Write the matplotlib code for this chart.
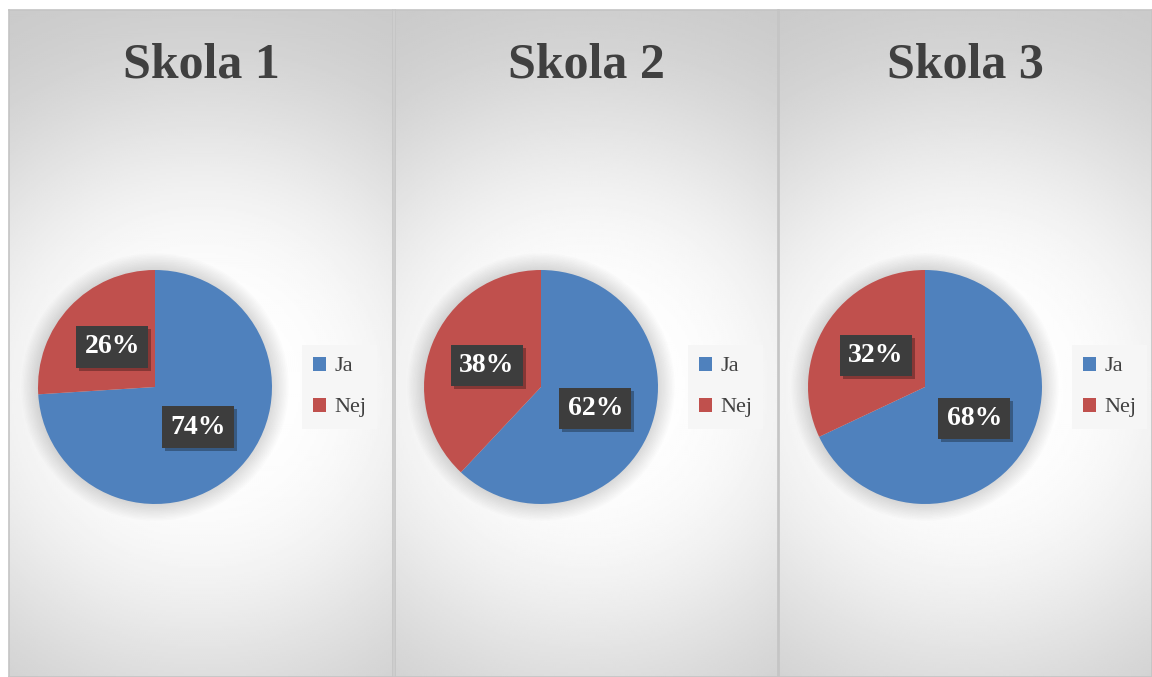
import numpy as np
import matplotlib.pyplot as plt
from matplotlib.patches import Circle, Rectangle

schools = ['Skola 1', 'Skola 2', 'Skola 3']
labels = ['Ja', 'Nej']
ja_values = [74, 62, 68]
nej_values = [26, 38, 32]
colors = ['#4F81BD', '#C0504D']

W, H = 1152, 677
fig = plt.figure(figsize=(W / 100, H / 100), dpi=100)
fig.patch.set_facecolor('white')

def fig_rect(x0, y0, x1, y1):
    # pixel box (top-left origin) -> figure fraction rect
    return [x0 / W, 1 - y1 / H, (x1 - x0) / W, (y1 - y0) / H]

panels = [(9, 393), (395, 778), (779, 1152)]
top, bottom = 10, 677
serif = 'Liberation Serif'
pct_labels = []

for i, (x0, x1) in enumerate(panels):
    # soft radial gradient, centred on the pie
    pw, ph = x1 - x0, bottom - top
    yy, xx = np.mgrid[0:ph:2, 0:pw:2]
    d = np.hypot(xx - pw / 2, yy - (387 - top))
    grad = 0.78 + 0.22 * np.exp(-(d / 300.0) ** 3)

    bg = fig.add_axes(fig_rect(x0, top, x1, bottom))
    bg.imshow(grad, cmap='gray', vmin=0, vmax=1, aspect='auto', interpolation='bilinear')
    bg.set_xticks([])
    bg.set_yticks([])
    for s in bg.spines.values():
        s.set_color('#C4C4C4')
        s.set_linewidth(1.2)

    cx = x0 + 146
    cy = 387
    rad = 117
    ax = fig.add_axes(fig_rect(cx - rad, cy - rad, cx + rad, cy + rad))
    # blurred shadow halo around the pie
    for k in range(12):
        ax.add_patch(Circle((0, 0), 1.0 + 0.012 * (k + 1), facecolor='black',
                            alpha=0.01, edgecolor='none', clip_on=False, zorder=0))
    wedges, texts, autotexts = ax.pie(
        [ja_values[i], nej_values[i]], colors=colors, startangle=90, counterclock=False,
        radius=1, autopct='%d%%', pctdistance=0.5,
        wedgeprops=dict(edgecolor='none'),
        textprops=dict(color='white', fontsize=20, fontweight='bold', family=serif, zorder=5))
    for t in autotexts:
        t.set_bbox(dict(boxstyle='square,pad=0.3', facecolor='#3D3D3D', edgecolor='none'))
        pct_labels.append((ax, t))
    ax.set_xlim(-1, 1)
    ax.set_ylim(-1, 1)
    ax.set_aspect('equal')
    ax.axis('off')

    fig.text((x0 + x1) / 2 / W, 1 - 65 / H, schools[i], ha='center', va='center',
             fontsize=36, fontweight='bold', color='#404040', family=serif)

    fig.legend(wedges, labels, loc='center left',
               bbox_to_anchor=((x0 + 293) / W, 1 - 387 / H), borderaxespad=0,
               frameon=True, facecolor='#F6F6F6', edgecolor='none', fancybox=False,
               framealpha=1, prop=dict(family=serif, size=16), labelcolor='#404040',
               handlelength=0.6, handleheight=0.6, handletextpad=0.35,
               labelspacing=0.95, borderpad=0.5)

# drop shadows behind the percentage boxes
fig.canvas.draw()
for ax, t in pct_labels:
    bb = t.get_bbox_patch().get_window_extent()
    ax.add_patch(Rectangle((bb.x0 + 3, bb.y0 - 3), bb.width, bb.height, transform=None,
                           facecolor='black', alpha=0.3, edgecolor='none', zorder=4,
                           clip_on=False))

fig.savefig('out.png', dpi=100)
